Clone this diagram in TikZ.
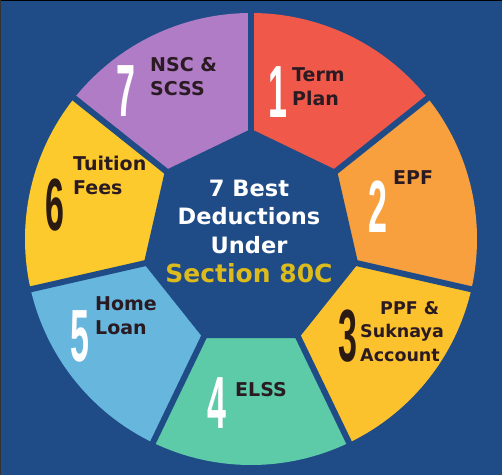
\documentclass[tikz,border=0pt]{standalone}
\usepackage{fontspec}
\usetikzlibrary{calc}
\setmainfont{DejaVu Sans}
\newfontfamily\numfont{Liberation Sans}
\definecolor{bgblue}{HTML}{1F4C87}
\definecolor{cterm}{HTML}{F0584A}
\definecolor{cepf}{HTML}{F8A03E}
\definecolor{cppf}{HTML}{FCC22D}
\definecolor{celss}{HTML}{5DCAA8}
\definecolor{chome}{HTML}{66B6DD}
\definecolor{ctuition}{HTML}{FDCA2E}
\definecolor{cnsc}{HTML}{B07CC6}
\definecolor{labelink}{HTML}{2A1A22}
\definecolor{numdark}{HTML}{2A1A12}
\definecolor{gold}{HTML}{DDBB1C}
\tikzset{
  lbl/.style={anchor=west, align=left, text=labelink, inner sep=0pt,
    font=\fontsize{19}{24}\selectfont\bfseries},
  lblsmall/.style={anchor=west, align=left, text=labelink, inner sep=0pt,
    font=\fontsize{17.5}{22}\selectfont\bfseries},
  bignum/.style={inner sep=0pt, font=\fontsize{74}{74}\numfont\bfseries},
  sep/.style={bgblue, line width=6pt},
}
\newcommand{\slim}[1]{\scalebox{0.46}[1]{#1}}
\begin{document}
\begin{tikzpicture}[x=1pt,y=1pt]
\fill[bgblue] (0,0) rectangle (502,475);
\useasboundingbox (0,0) rectangle (502,475);
\coordinate (C) at (251,236);
\def\R{226}
% sectors
\foreach \a/\b/\col in {90/38.571/cterm, 38.571/-12.857/cepf, -12.857/-64.286/cppf,
  -64.286/-115.714/celss, -115.714/-167.143/chome, 192.857/141.429/ctuition, 141.429/90/cnsc}{
  \fill[\col] (C) -- ++(\a:\R) arc[start angle=\a, end angle=\b, radius=\R] -- cycle;
}
% separators
\foreach \k in {0,...,6}{
  \draw[sep] (C) -- ++({90-\k*51.4286}:{\R+4});
}
% inner heptagon
\fill[bgblue] ($(C)+(90:110)$) \foreach \k in {1,...,6}{ -- ($(C)+({90+\k*51.4286}:110)$) } -- cycle;
% frame
\draw[black, line width=2pt] (0,475) -- (502,475);
\draw[black!80, line width=1pt] (0.5,0) -- (0.5,475);
% numbers
\node[bignum, text=white] (n1) at (277.5,382.5) {\slim{1}};
\node[bignum, text=white] (n2) at (377.5,268) {\slim{2}};
\node[bignum, text=numdark] (n3) at (347.5,138.5) {\slim{3}};
\node[bignum, text=white] (n4) at (216.5,72) {\slim{4}};
\node[bignum, text=white] (n5) at (80,138.5) {\slim{5}};
\node[bignum, text=numdark] (n6) at (55,270) {\slim{6}};
\node[bignum, text=white] (n7) at (126,383.5) {\slim{7}};
% labels
\node[lbl] (l1) at (292,388) {Term\\Plan};
\node[lbl] (l2) at (393,297) {EPF};
\node[lblsmall] (l3a) at (380,167) {PPF \&};
\node[lblsmall] (l3b) at (360,142) {Suknaya};
\node[lblsmall] (l3c) at (360,120) {Account};
\node[lbl] (l4) at (235,85) {ELSS};
\node[lbl] (l5) at (95,159.5) {Home\\Loan};
\node[lbl] (l6) at (73,299.5) {Tuition\\Fees};
\node[lbl] (l7) at (150,398.5) {NSC \&\\SCSS};
% centre
\node[text=white, align=center, inner sep=0pt, font=\fontsize{22.5}{28.5}\selectfont\bfseries] (ctitle) at (249,258.5) {7 Best\\Deductions\\Under};
\node[text=gold, inner sep=0pt, font=\fontsize{25}{28}\selectfont\bfseries] (csec) at (249,202) {Section 80C};
\end{tikzpicture}
\end{document}
